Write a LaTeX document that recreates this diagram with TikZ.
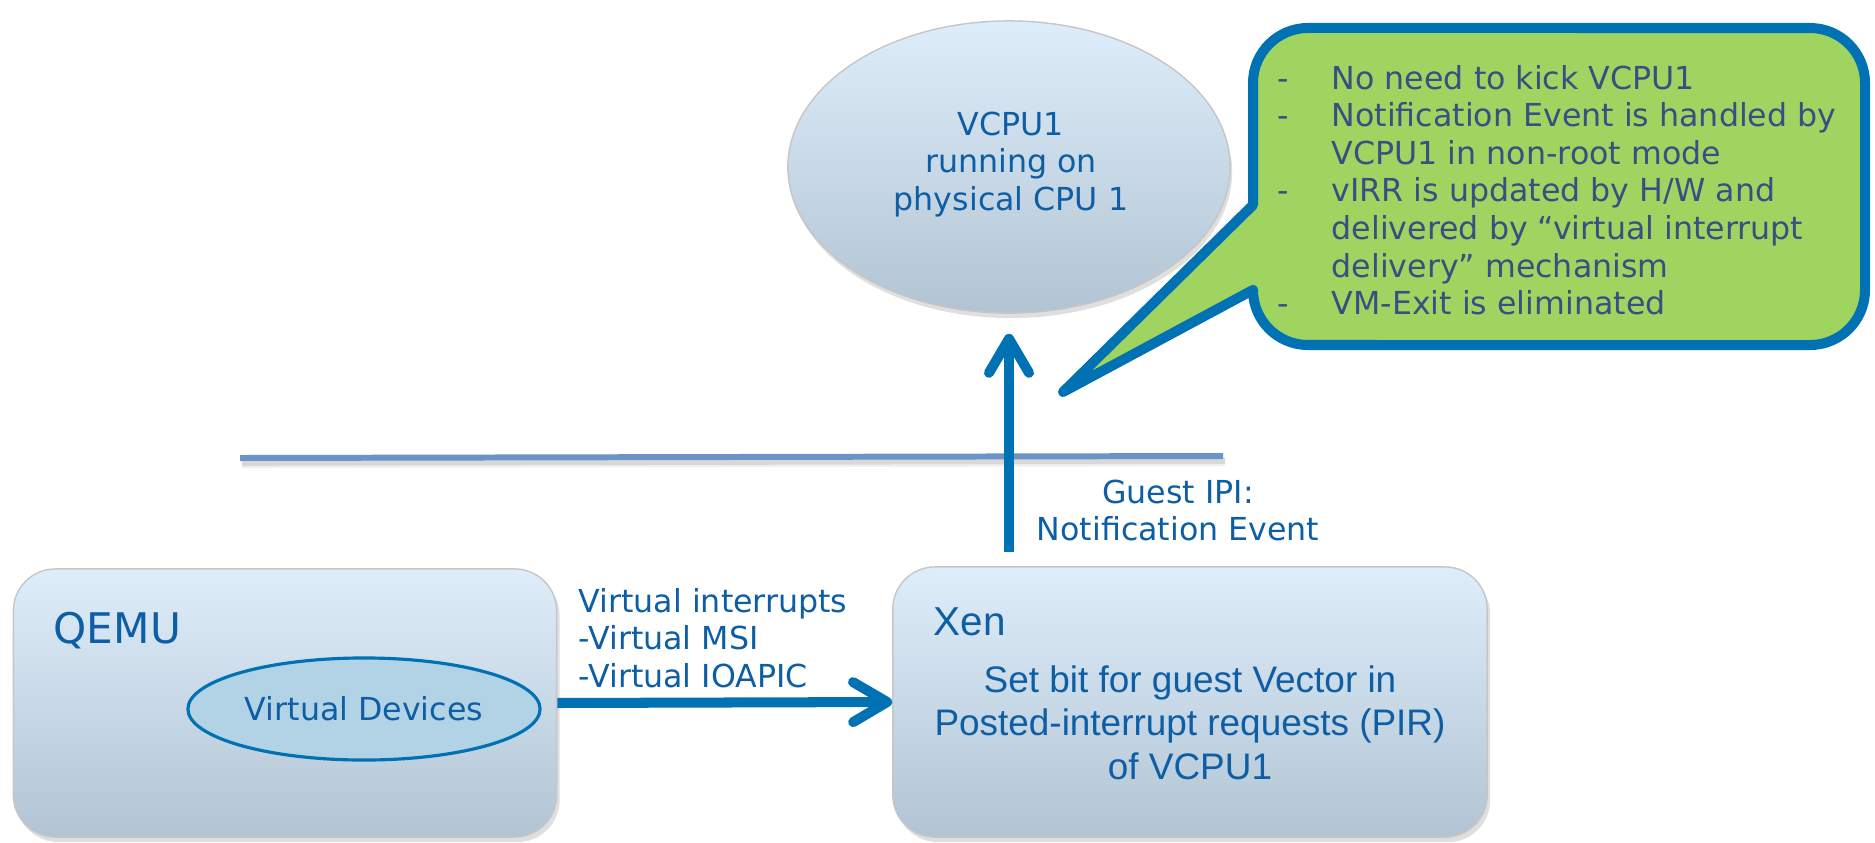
\documentclass[tikz,border=0pt]{standalone}
\usepackage{fontspec}
\setmainfont{DejaVu Sans}
\newfontfamily\arialf{Liberation Sans}
\usetikzlibrary{shapes.geometric,arrows.meta,shadows}
\definecolor{txtblue}{RGB}{14,94,166}
\definecolor{lineblue}{RGB}{0,114,180}
\definecolor{boxtop}{RGB}{222,237,250}
\definecolor{boxbot}{RGB}{178,196,211}
\definecolor{calgreen}{RGB}{160,212,96}
\definecolor{caltext}{RGB}{58,78,130}
\definecolor{sepblue}{RGB}{106,147,200}
\definecolor{vdfill}{RGB}{178,211,229}
\newcommand\mylines[2]{\begin{tabular}[t]{@{}#1@{}}#2\end{tabular}}
\begin{document}
\begin{tikzpicture}[x=0.01cm,y=-0.01cm,
  boxstyle/.style={rectangle, rounded corners=0.42cm, top color=boxtop, bottom color=boxbot,
    draw=gray!45, line width=0.4pt, inner sep=0,
    drop shadow={opacity=0.25, shadow xshift=0.03cm, shadow yshift=-0.05cm}},
  ellstyle/.style={ellipse, top color=boxtop, bottom color=boxbot, draw=gray!45, line width=0.4pt,
    inner sep=0, drop shadow={opacity=0.25, shadow xshift=0.02cm, shadow yshift=-0.05cm}},
  txt/.style={text=txtblue, inner sep=0, font=\fontsize{9}{10.7}\selectfont},
  conn/.style={draw=lineblue, line width=2.85pt, -{Straight Barb[length=3.4mm, width=4mm, round]}},
]
\useasboundingbox (0,0) rectangle (1875,842);

% separator line with soft shadow
\draw[line width=2.4pt, black, opacity=0.06] (242,464) -- (1225,462);
\draw[line width=1.6pt, black, opacity=0.10] (242,463) -- (1225,461);
\draw[line width=1.7pt, sepblue] (240,458) -- (1223,456);

% QEMU box
\node[boxstyle, minimum width=5.43cm, minimum height=2.68cm] (qemu) at (285,703) {};
\node[txt, font=\fontsize{12}{14}\selectfont, anchor=base west] (qemulbl) at (53,643) {QEMU};
\node[ellipse, draw=lineblue, line width=0.9pt, fill=vdfill, minimum width=3.52cm, minimum height=1.02cm,
  txt] (vd) at (364,709) {Virtual Devices};

% Xen box
\node[boxstyle, minimum width=5.94cm, minimum height=2.70cm] (xen) at (1190,702) {};
\node[txt, font=\arialf\fontsize{11.5}{13}\selectfont, anchor=base west] (xenlbl) at (933,635) {Xen};
\node[txt, font=\arialf\fontsize{10.5}{12.4}\selectfont, anchor=base] (xentxt) at (1190,692)
  {\mylines{c}{Set bit for guest Vector in\\Posted-interrupt requests (PIR)\\of VCPU1}};

% VCPU ellipse
\node[ellstyle, minimum width=4.42cm, minimum height=2.92cm] (vcpu) at (1009,167) {};
\node[txt, anchor=base] (vcputxt) at (1011,135) {\mylines{c}{VCPU1\\running on\\physical CPU 1}};

% callout
\draw[line width=2.85pt, draw=lineblue, fill=calgreen, line join=round]
  (1253,205) -- (1253,83) arc[start angle=180, end angle=90, radius=0.55cm]
  -- (1810,28) arc[start angle=90, end angle=0, radius=0.55cm]
  -- (1865,290) arc[start angle=0, end angle=-90, radius=0.55cm]
  -- (1308,345) arc[start angle=270, end angle=180, radius=0.55cm]
  -- (1063,392) -- cycle;
\node[txt, text=caltext, anchor=base west] (caltxt) at (1277,89)
  {\begin{tabular}[t]{@{}p{0.54cm}@{}l@{}}
  -&No need to kick VCPU1\\
  -&Notification Event is handled by\\
   &VCPU1 in non-root mode\\
  -&vIRR is updated by H/W and\\
   &delivered by “virtual interrupt\\
   &delivery” mechanism\\
  -&VM-Exit is eliminated
  \end{tabular}};

% labels
\node[txt, anchor=base west] (vilbl) at (578,612) {\mylines{l}{Virtual interrupts\\-Virtual MSI\\-Virtual IOAPIC}};
\node[txt, anchor=base] (ipilbl) at (1178,503) {\mylines{c}{Guest IPI:\\Notification Event}};

% connectors
\draw[conn] (qemu.east) -- (xen.west);
\draw[conn, shorten <=0.14cm, shorten >=0.2cm] (xen.north -| vcpu.south) -- (vcpu.south);
\end{tikzpicture}
\end{document}
